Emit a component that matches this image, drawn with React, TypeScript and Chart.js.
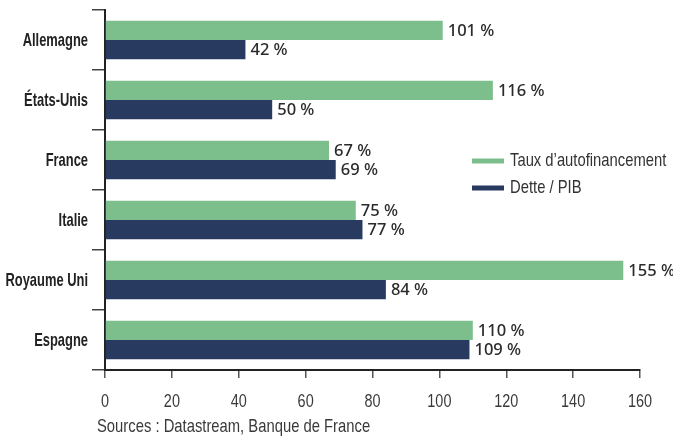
import React, { useEffect, useRef } from "react";
import { Chart, registerables } from "chart.js";

Chart.register(...registerables);

const categories = ["Allemagne", "États-Unis", "France", "Italie", "Royaume Uni", "Espagne"];
const autofinancement = [101, 116, 67, 75, 155, 110];
const dettePib = [42, 50, 69, 77, 84, 109];
const seriesNames = ["Taux d\u2019autofinancement", "Dette / PIB"];
const seriesColors = ["#7dbf8c", "#283a60"];
const xTicks = [0, 20, 40, 60, 80, 100, 120, 140, 160];
const sourceText = "Sources : Datastream, Banque de France";

const SANS = "'Liberation Sans', Arial, sans-serif";
const LABEL_FONT = "'Noto Sans', 'Open Sans', sans-serif";

function condensedText(
  ctx: CanvasRenderingContext2D,
  text: string,
  x: number,
  y: number,
  font: string,
  color: string,
  scaleX: number,
  align: "left" | "right" | "center"
) {
  ctx.save();
  ctx.font = font;
  ctx.fillStyle = color;
  ctx.textBaseline = "middle";
  ctx.textAlign = align;
  ctx.translate(x, y);
  ctx.scale(scaleX, 1);
  ctx.fillText(text, 0, 0);
  ctx.restore();
}

const extrasPlugin = {
  id: "extras",
  afterDraw(chart: any) {
    const ctx = chart.ctx;
    ctx.save();
    // data labels
    ctx.font = `500 16.5px ${LABEL_FONT}`;
    ctx.fillStyle = "#2b2b2b";
    ctx.textBaseline = "middle";
    ctx.textAlign = "left";
    chart.data.datasets.forEach((ds: any, di: number) => {
      const meta = chart.getDatasetMeta(di);
      meta.data.forEach((bar: any, i: number) => {
        ctx.fillText(`${ds.data[i]} %`, bar.x + 5, bar.y + 1);
      });
    });
    ctx.restore();
    // category labels
    const ys = chart.scales.y;
    categories.forEach((c, i) => {
      condensedText(ctx, c, 88, ys.getPixelForValue(i) + 1, `bold 19px ${SANS}`, "#222", 0.68, "right");
    });
    // x tick labels
    const xs = chart.scales.x;
    xTicks.forEach((v) => {
      condensedText(ctx, String(v), xs.getPixelForValue(v), 402, `19px ${SANS}`, "#3a3a3a", 0.76, "center");
    });
    // legend
    const lx = 472;
    const ly = [161, 188];
    seriesNames.forEach((name, i) => {
      ctx.fillStyle = seriesColors[i];
      ctx.fillRect(lx, ly[i] - 2.5, 32, 5);
      condensedText(ctx, name, lx + 38, ly[i], `18.5px ${SANS}`, "#333", 0.8, "left");
    });
    // source
    condensedText(ctx, sourceText, 97, 427, `18.5px ${SANS}`, "#3a3a3a", 0.8, "left");
  },
};

export default function App() {
  const ref = useRef<HTMLCanvasElement>(null);
  useEffect(() => {
    const chart = new Chart(ref.current!, {
      type: "bar",
      data: {
        labels: categories,
        datasets: [
          { label: seriesNames[0], data: autofinancement, backgroundColor: seriesColors[0] },
          { label: seriesNames[1], data: dettePib, backgroundColor: seriesColors[1] },
        ],
      },
      options: {
        indexAxis: "y",
        animation: false,
        responsive: false,
        events: [],
        layout: { padding: { top: 10, right: 33, left: 0, bottom: 0 } },
        datasets: { bar: { barPercentage: 1, categoryPercentage: 0.64 } },
        plugins: { legend: { display: false }, tooltip: { enabled: false } },
        scales: {
          x: {
            min: 0,
            max: 160,
            afterBuildTicks: (s: any) => {
              s.ticks = xTicks.map((v) => ({ value: v }));
            },
            afterFit: (s: any) => {
              s.height = 67;
            },
            border: { display: true, color: "#222", width: 2 },
            grid: { drawOnChartArea: false, drawTicks: true, tickLength: 8, color: "#555", lineWidth: 1.5 },
            ticks: { display: false },
          },
          y: {
            offset: true,
            afterFit: (s: any) => {
              s.width = 105;
            },
            border: { display: true, color: "#222", width: 2 },
            grid: { offset: true, drawOnChartArea: false, drawTicks: true, tickLength: 13, color: "#444", lineWidth: 1.5 },
            ticks: { display: false },
          },
        },
      },
      plugins: [extrasPlugin],
    });
    return () => chart.destroy();
  }, []);
  return (
    <div style={{ position: "fixed", left: 0, top: 0, width: 673, height: 437, background: "#fff" }}>
      <canvas ref={ref} width={673} height={437} style={{ width: 673, height: 437 }} />
    </div>
  );
}
